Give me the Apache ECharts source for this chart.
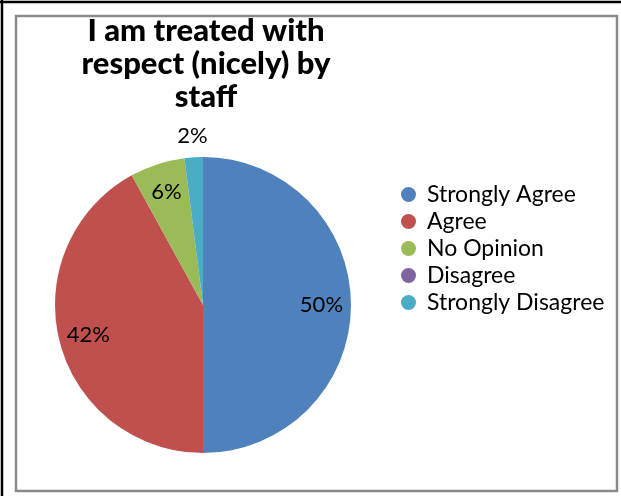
<!DOCTYPE html>
<html>
<head>
<meta charset="utf-8">
<script src="https://cdn.jsdelivr.net/npm/echarts@6/dist/echarts.min.js"></script>
<style>
  html, body { margin: 0; padding: 0; background: #fff; }
  #chart { width: 621px; height: 496px; }
</style>
</head>
<body>
<div id="chart"></div>
<script>
// Survey responses: "I am treated with respect (nicely) by staff"
const categories = ['Strongly Agree', 'Agree', 'No Opinion', 'Disagree', 'Strongly Disagree'];
const shares = [50, 42, 6, 0, 2];
const colors = ['#4F81BD', '#C0504D', '#9BBB59', '#8064A2', '#4BACC6'];
// where each percentage label sits: on the slice, beside the pie, or hidden
const labelPlacement = ['inside', 'inside', 'inside', 'none', 'outside'];

const FONT = 'Lato, "Open Sans", sans-serif';
const CENTER = [203, 305];
const R = 148;

const chart = echarts.init(document.getElementById('chart'), null, { renderer: 'canvas' });

const slices = categories.map((name, i) => ({
  name, value: shares[i], itemStyle: { color: colors[i] }
}));

// transparent ring used only to carry labels at a chosen radius
function labelRing(radius, which) {
  return {
    type: 'pie',
    center: CENTER,
    radius,
    startAngle: 90,
    silent: true,
    legendHoverLink: false,
    labelLine: { show: false },
    itemStyle: { color: 'rgba(0,0,0,0)' },
    emphasis: { disabled: true },
    data: categories.map((name, i) => ({
      name,
      value: shares[i],
      itemStyle: { color: 'rgba(0,0,0,0)' },
      label: {
        show: labelPlacement[i] === which,
        position: 'inside',
        formatter: '{c}%',
        color: '#000',
        fontFamily: FONT,
        fontSize: 22
      }
    }))
  };
}

chart.setOption({
  animation: false,
  backgroundColor: '#fff',
  title: {
    text: 'I am treated with\nrespect (nicely) by\nstaff',
    left: 201,
    top: 9,
    textAlign: 'center',
    textStyle: {
      fontFamily: FONT,
      fontWeight: 900,
      fontSize: 31,
      lineHeight: 33,
      color: '#000'
    }
  },
  legend: {
    orient: 'vertical',
    left: 396,
    top: 178,
    icon: 'circle',
    itemWidth: 15,
    itemHeight: 15,
    itemGap: 4,
    data: categories,
    textStyle: { fontFamily: FONT, fontSize: 23, lineHeight: 23, color: '#000', padding: [0, 0, 0, 6] }
  },
  graphic: [
    { type: 'rect', shape: { x: 16, y: 16, width: 601, height: 475 },
      style: { fill: 'none', stroke: '#8a8a8a', lineWidth: 2.5 }, silent: true, z: 10 },
    { type: 'line', shape: { x1: 0, y1: 2, x2: 621, y2: 2 },
      style: { stroke: '#000', lineWidth: 2.5 }, silent: true, z: 10 },
    { type: 'line', shape: { x1: 2, y1: 0, x2: 2, y2: 496 },
      style: { stroke: '#000', lineWidth: 2.5 }, silent: true, z: 10 }
  ],
  series: [
    {
      type: 'pie',
      center: CENTER,
      radius: [0, R],
      startAngle: 90,
      label: { show: false },
      labelLine: { show: false },
      itemStyle: { borderWidth: 0 },
      emphasis: { disabled: true },
      data: slices
    },
    labelRing([R * 0.56, R], 'inside'),
    labelRing([R * 1.02, R * 1.23], 'outside')
  ]
});
</script>
</body>
</html>
